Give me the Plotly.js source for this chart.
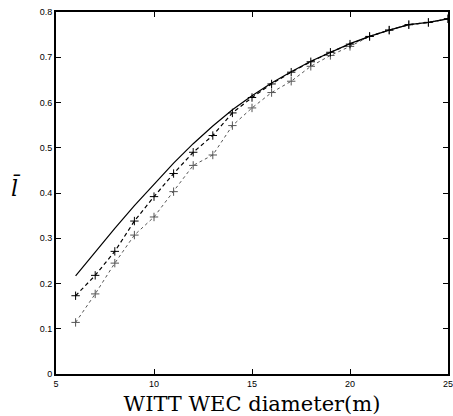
<!DOCTYPE html>
<html>
<head>
<meta charset="utf-8">
<script src="https://cdn.plot.ly/plotly-3.0.1.min.js"></script>
<style>html,body{margin:0;padding:0;background:#fff;}#chart{width:453px;height:416px;}</style>
</head>
<body>
<div id="chart"></div>
<script>
const diameter = [6,7,8,9,10,11,12,13,14,15,16,17,18,19,20,21,22,23,24,25];
const solidSeries = [0.217,0.270,0.322,0.372,0.420,0.466,0.509,0.548,0.584,0.615,0.643,0.668,0.691,0.711,0.730,0.746,0.760,0.772,0.777,0.785];
const dashedSeries = [0.173,0.218,0.271,0.338,0.392,0.443,0.490,0.527,0.577,0.611,0.641,0.667,0.690,0.711,0.729,0.746,0.760,0.772,0.777,0.785];
const dottedSeries = [0.114,0.177,0.245,0.307,0.347,0.403,0.461,0.484,0.549,0.588,0.622,0.647,0.680,0.704,0.724,0.746,0.760,0.772,0.777,0.785];
const xTicks = [5,10,15,20,25];
const yTicks = [0,0.1,0.2,0.3,0.4,0.5,0.6,0.7,0.8];
const yTickText = ['0','0.1','0.2','0.3','0.4','0.5','0.6','0.7','0.8'];

const traces = [
  {x: diameter, y: dottedSeries, mode: 'lines+markers', line: {color: '#555', width: 1, dash: 'dot'},
   marker: {symbol: 'cross-thin-open', size: 6, line: {color: '#111', width: 1}}},
  {x: diameter, y: dashedSeries, mode: 'lines+markers', line: {color: '#000', width: 1.2, dash: '4px,3px'},
   marker: {symbol: 'cross-thin-open', size: 6, line: {color: '#000', width: 1}}},
  {x: diameter, y: solidSeries, mode: 'lines', line: {color: '#000', width: 1.2}}
];

const axisCommon = {
  showgrid: false, zeroline: false, showline: true, linecolor: '#000', linewidth: 2,
  mirror: 'allticks', ticks: 'inside', ticklen: 5, tickwidth: 1, tickcolor: '#000',
  ticklabeloverflow: 'allow',
  tickfont: {family: 'Liberation Sans, Arial, sans-serif', size: 9, color: '#000'}
};

const layout = {
  width: 453, height: 416,
  margin: {l: 56, r: 5, t: 12, b: 42},
  paper_bgcolor: '#fff', plot_bgcolor: '#fff',
  showlegend: false,
  xaxis: Object.assign({}, axisCommon, {range: [5, 25], tickvals: xTicks, ticktext: xTicks.map(String),
    title: {text: 'WITT WEC diameter(m)', font: {family: 'DejaVu Serif, serif', size: 21, color: '#000'}, standoff: 9}}),
  yaxis: Object.assign({}, axisCommon, {range: [0, 0.8], tickvals: yTicks, ticktext: yTickText}),
  annotations: [{
    text: '<i>l\u0304</i>', xref: 'paper', yref: 'paper', x: -0.102, y: 0.514, xanchor: 'center', yanchor: 'middle',
    showarrow: false, font: {family: 'DejaVu Serif, serif', size: 22, color: '#000'}
  }]
};

Plotly.newPlot('chart', traces, layout, {displayModeBar: false, staticPlot: true});
</script>
</body>
</html>
